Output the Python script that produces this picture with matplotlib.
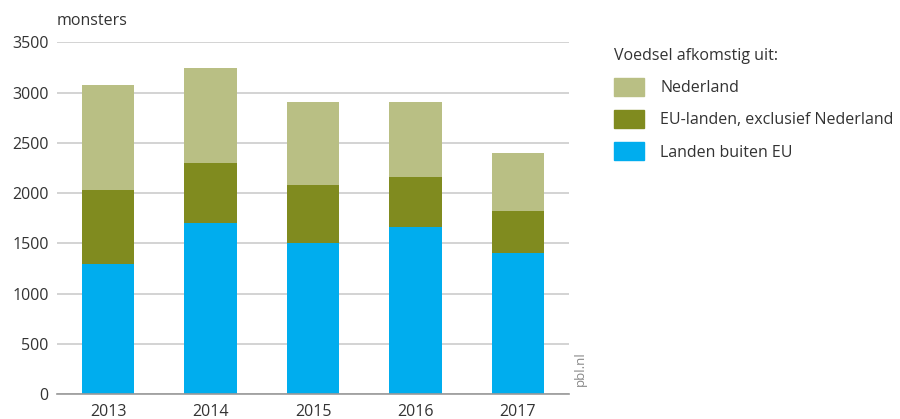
import numpy as np
import matplotlib.pyplot as plt
from matplotlib.patches import Patch

plt.rcParams['font.family'] = ['Open Sans', 'DejaVu Sans']

jaren = ['2013', '2014', '2015', '2016', '2017']
buiten_eu = [1300, 1700, 1500, 1660, 1400]
eu_landen = [730, 600, 580, 500, 420]
nederland = [1050, 940, 830, 750, 580]

kleur_nl = '#b9bf84'
kleur_eu = '#808b1f'
kleur_buiten = '#00adee'
tekst = '#333333'

fig = plt.figure(figsize=(9, 4.19), dpi=100)
ax = fig.add_axes([0.0633, 0.059, 0.569, 0.84])

x = np.arange(len(jaren))
b = 0.51
onder = np.array(buiten_eu)
ax.bar(x, buiten_eu, b, color=kleur_buiten, zorder=3)
ax.bar(x, eu_landen, b, bottom=onder, color=kleur_eu, zorder=3)
onder = onder + np.array(eu_landen)
ax.bar(x, nederland, b, bottom=onder, color=kleur_nl, zorder=3)

ax.set_xlim(-0.5, 4.5)
ax.set_ylim(0, 3500)
ax.set_yticks(np.arange(0, 3501, 500))
ax.set_xticks(x)
ax.set_xticklabels(jaren)
ax.yaxis.grid(True, color='#cccccc', linewidth=1.2, zorder=0)
for s in ['top', 'right', 'left']:
    ax.spines[s].set_visible(False)
ax.spines['bottom'].set_color('#999999')
ax.spines['bottom'].set_linewidth(1.2)
ax.spines['bottom'].set_zorder(4)
ax.tick_params(length=0, labelsize=11.5, colors=tekst, pad=6)
ax.tick_params(axis='x', pad=7)

fig.text(0.0633, 0.95, 'monsters', fontsize=11.5, color=tekst, va='center')
fig.text(0.645, 0.12, 'pbl.nl', fontsize=9.5, color='#888888', rotation=90,
         ha='center', va='center')

handles = [Patch(color=kleur_nl), Patch(color=kleur_eu), Patch(color=kleur_buiten)]
labels = ['Nederland', 'EU-landen, exclusief Nederland', 'Landen buiten EU']
leg = fig.legend(handles, labels, title='Voedsel afkomstig uit:', loc='upper left',
                 bbox_to_anchor=(0.682, 0.885), frameon=False, fontsize=11.5,
                 title_fontsize=11.5, handlelength=1.9, handleheight=1.4,
                 handletextpad=1.0, labelspacing=0.85, alignment='left',
                 borderaxespad=0, borderpad=0)
for t in leg.get_texts():
    t.set_color(tekst)
leg.get_title().set_color(tekst)

fig.savefig('out.png', dpi=100)
